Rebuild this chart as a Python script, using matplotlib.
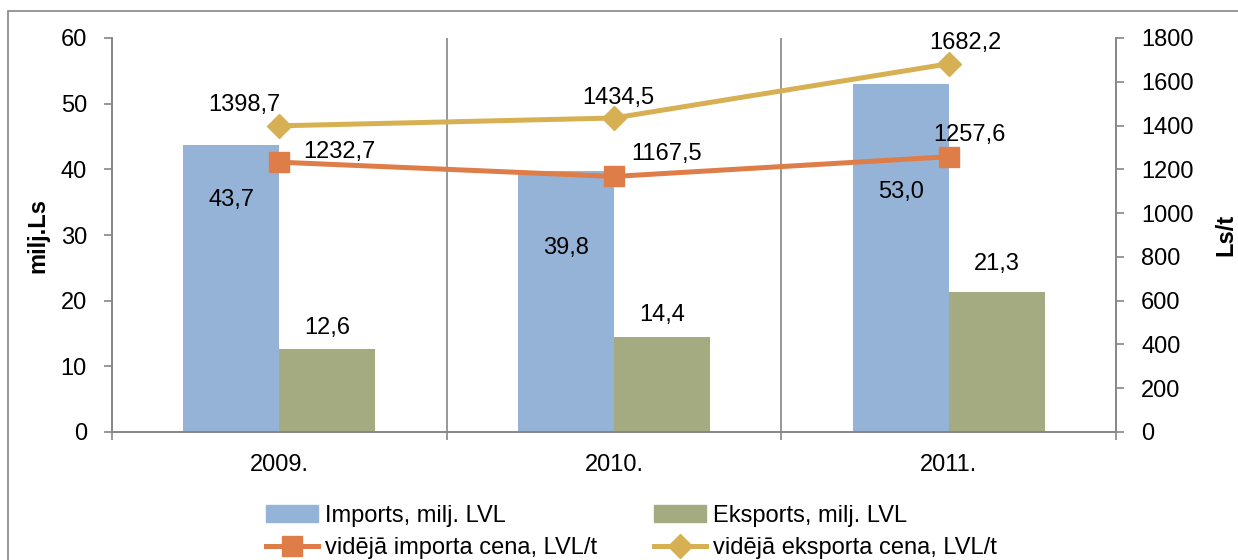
import matplotlib
matplotlib.use("Agg")
import matplotlib.pyplot as plt
import matplotlib.patches as mpatches
from matplotlib.lines import Line2D
import numpy as np

plt.rcParams['font.family'] = ['Liberation Sans', 'DejaVu Sans']

years = ["2009.", "2010.", "2011."]
imports = [43.7, 39.8, 53.0]
exports = [12.6, 14.4, 21.3]
import_price = [1232.7, 1167.5, 1257.6]
export_price = [1398.7, 1434.5, 1682.2]

imports_lbl = ["43,7", "39,8", "53,0"]
exports_lbl = ["12,6", "14,4", "21,3"]
import_price_lbl = ["1232,7", "1167,5", "1257,6"]
export_price_lbl = ["1398,7", "1434,5", "1682,2"]

# label offsets (pixels)
imp_off = [-55, -77, -108]
exp_off = [21, 22, 28]
ip_off = [(60, 10), (53, 22), (21, 22)]
ep_off = [(-35, 21), (4, 20), (17, 21)]

c_imp = "#95B3D7"
c_exp = "#A5AB81"
c_ip = "#DE7D48"
c_ep = "#D8B054"
gray = "#868686"
FS = 17

fig = plt.figure(figsize=(12.38, 5.6), dpi=100)
ax = fig.add_axes([112/1238, 1-432/560, (1116-112)/1238, (432-38)/560])
ax2 = ax.twinx()

x = np.arange(len(years))
w = 0.287
ax.bar(x - w/2, imports, w, color=c_imp, label="Imports, milj. LVL", zorder=2)
ax.bar(x + w/2, exports, w, color=c_exp, label="Eksports, milj. LVL", zorder=2)

ax.set_xlim(-0.5, 2.5)
ax.set_ylim(0, 60)
ax.set_yticks(range(0, 61, 10))
ax2.set_ylim(0, 1800)
ax2.set_yticks(range(0, 1801, 200))

for xv in [0.5, 1.5]:
    ax.axvline(xv, color=gray, lw=1.2, zorder=1)

ax.set_xticks(x)
ax.set_xticklabels(years)
ax.set_xticks([-0.5, 0.5, 1.5, 2.5], minor=True)
ax.tick_params(axis='x', which='major', length=0, pad=16, labelsize=FS)
ax.tick_params(axis='x', which='minor', length=6, width=1.2, color=gray, direction='out')
ax.tick_params(axis='y', length=6, width=1.2, color=gray, pad=12, labelsize=FS)
ax2.tick_params(axis='y', length=6, width=1.2, color=gray, pad=12, labelsize=FS)

for a in (ax, ax2):
    a.spines['top'].set_visible(False)
    for s in ('left', 'right', 'bottom'):
        a.spines[s].set_color(gray)
        a.spines[s].set_linewidth(1.2)

ax2.plot(x, import_price, color=c_ip, lw=3.6, marker='s', ms=14, zorder=5,
         label="vidējā importa cena, LVL/t")
ax2.plot(x, export_price, color=c_ep, lw=3.6, marker='D', ms=12, zorder=5,
         label="vidējā eksporta cena, LVL/t")

for i in range(3):
    ax.annotate(imports_lbl[i], (x[i] - w/2, imports[i]), xytext=(0, imp_off[i]),
                textcoords='offset pixels', ha='center', va='center', fontsize=FS, zorder=6)
    ax.annotate(exports_lbl[i], (x[i] + w/2, exports[i]), xytext=(0, exp_off[i]),
                textcoords='offset pixels', ha='center', va='center', fontsize=FS, zorder=6)
    ax2.annotate(import_price_lbl[i], (x[i], import_price[i]), xytext=ip_off[i],
                 textcoords='offset pixels', ha='center', va='center', fontsize=FS, zorder=6)
    ax2.annotate(export_price_lbl[i], (x[i], export_price[i]), xytext=ep_off[i],
                 textcoords='offset pixels', ha='center', va='center', fontsize=FS, zorder=6)

ax.set_zorder(ax2.get_zorder() - 1)
ax.patch.set_visible(False)

fig.text(38/1238, 1-235/560, "milj.Ls", rotation=90, fontsize=FS, fontweight='bold',
         ha='center', va='center')
fig.text(1226/1238, 1-235/560, "Ls/t", rotation=90, fontsize=FS, fontweight='bold',
         ha='center', va='center')

# outer chart border
fig.patches.append(mpatches.Rectangle((8/1238, -0.2), 1.2, 1.2 - 11/560,
                                      transform=fig.transFigure, fill=False,
                                      edgecolor=gray, lw=1.2))

h1 = mpatches.Patch(color=c_imp)
h2 = mpatches.Patch(color=c_exp)
h3 = Line2D([], [], color=c_ip, lw=3.6, marker='s', ms=14)
h4 = Line2D([], [], color=c_ep, lw=3.6, marker='D', ms=12)
leg = fig.legend([h1, h3, h2, h4],
                 ["Imports, milj. LVL", "vidējā importa cena, LVL/t",
                  "Eksports, milj. LVL", "vidējā eksporta cena, LVL/t"],
                 ncol=2, loc='upper left', bbox_to_anchor=(254/1238, 1-493/560),
                 frameon=False, fontsize=FS, handlelength=2.2, handletextpad=0.3,
                 columnspacing=2.4, labelspacing=0.45, borderpad=0)

fig.savefig("out.png", dpi=100)
